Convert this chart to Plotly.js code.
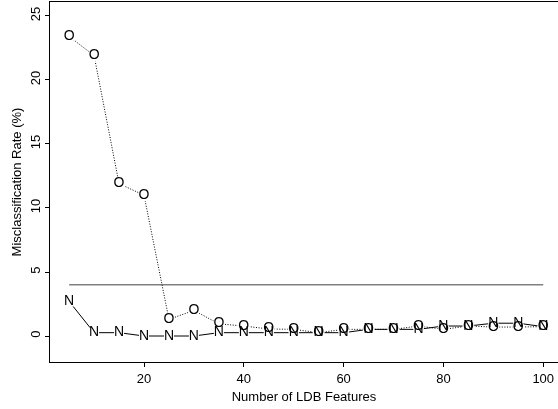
<!DOCTYPE html>
<html>
<head>
<meta charset="utf-8">
<script src="https://cdn.plot.ly/plotly-3.0.1.min.js"></script>
<style>html,body{margin:0;padding:0;background:#fff;}#chart{width:558px;height:409px;}
svg text{-webkit-font-smoothing:antialiased;}</style>
</head>
<body>
<div id="chart"></div>
<script>
var features = [5,10,15,20,25,30,35,40,45,50,55,60,65,70,75,80,85,90,95,100];
var rateO = [23.4,21.9,11.9,11.0,1.3,2.0,0.95,0.78,0.55,0.52,0.26,0.52,0.52,0.52,0.78,0.52,0.78,0.7,0.7,0.73];
var rateN = [2.7,0.26,0.26,0.0,0.0,0.0,0.26,0.26,0.26,0.26,0.26,0.26,0.52,0.52,0.52,0.78,0.78,1.0,1.0,0.73];
var refX = [5,100];
var refY = [4,4];
var labelO = 'O';
var labelN = 'N';
var xTicks = [20,40,60,80,100];
var yTicks = [0,5,10,15,20,25];

var font = 'Liberation Sans, Arial, Helvetica, sans-serif';
function rep(s,n){var a=[];for(var i=0;i<n;i++)a.push(s);return a;}

var traces = [
  {x: refX, y: refY, mode:'lines', line:{color:'#808080', width:1.6}, hoverinfo:'skip'},
  {x: features, y: rateO, mode:'lines', line:{color:'#000', width:1, dash:'1px,1.6px'}},
  {x: features, y: rateN, mode:'lines', line:{color:'#000', width:1}},
  {x: features, y: rateO, mode:'markers', marker:{symbol:'circle', size:12, color:'#fff', line:{width:0}}},
  {x: features, y: rateN, mode:'markers', marker:{symbol:'square', size:10, color:'#fff', line:{width:0}}},
  {x: features, y: rateO, mode:'text', opacity:0.999, text: rep(labelO, features.length), textposition:'middle center', textfont:{family:font, size:14, color:'#000'}},
  {x: features, y: rateN, mode:'text', opacity:0.999, text: rep(labelN, features.length), textposition:'middle center', textfont:{family:font, size:14, color:'#000'}}
];

var layout = {
  width:558, height:409,
  margin:{l:50, r:0, t:2, b:47},
  showlegend:false,
  paper_bgcolor:'#fff', plot_bgcolor:'#fff',
  font:{family:font, size:13, color:'#000'},
  xaxis:{
    range:[1.16,102.96], tickvals:xTicks, ticktext:xTicks.map(String),
    showgrid:false, zeroline:false, showline:true, linecolor:'#000', linewidth:1, mirror:true,
    ticks:'outside', ticklen:4, tickcolor:'#000',
    title:{text:'Number of LDB Features', font:{family:font, size:13}, standoff:7}
  },
  yaxis:{
    range:[-2.03,26.09], tickvals:yTicks, ticktext:yTicks.map(String), tickangle:-90,
    showgrid:false, zeroline:false, showline:true, linecolor:'#000', linewidth:1,
    ticks:'outside', ticklen:4, tickcolor:'#000',
    title:{text:'Misclassification Rate (%)', font:{family:font, size:13}, standoff:3}
  }
};
Plotly.newPlot('chart', traces, layout, {staticPlot:true, displayModeBar:false});
</script>
</body>
</html>
